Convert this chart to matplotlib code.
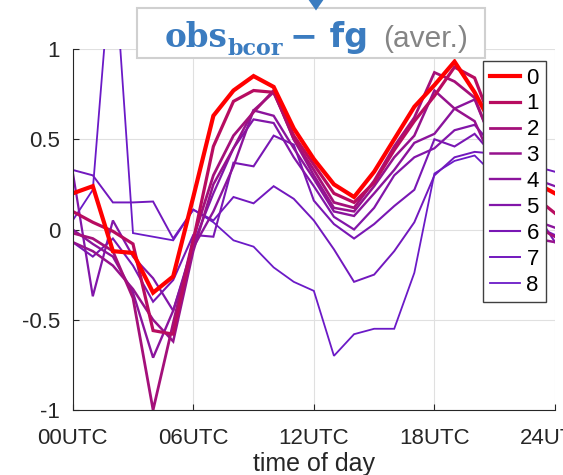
import matplotlib
matplotlib.use('Agg')
import matplotlib.pyplot as plt
import numpy as np
from matplotlib.patches import Rectangle, Polygon

# time axis (hour of day) and the nine series
hours = list(range(25))
labels = ['0', '1', '2', '3', '4', '5', '6', '7', '8']

d0 = [0.20, 0.24, -0.12, -0.13, -0.35, -0.26, 0.18, 0.63, 0.77, 0.85, 0.79, 0.56, 0.39,
      0.25, 0.18, 0.32, 0.50, 0.68, 0.80, 0.93, 0.76, 0.55, 0.38, 0.26, 0.20]
d1 = [0.10, 0.04, -0.01, -0.08, -0.56, -0.58, -0.06, 0.46, 0.71, 0.77, 0.76, 0.52, 0.36,
      0.20, 0.15, 0.26, 0.44, 0.60, 0.74, 0.90, 0.84, 0.55, 0.32, 0.18, 0.09]
d2 = [-0.02, -0.05, -0.12, -0.38, -1.00, -0.52, -0.05, 0.30, 0.52, 0.65, 0.77, 0.50, 0.33,
      0.15, 0.12, 0.27, 0.46, 0.62, 0.87, 0.82, 0.73, 0.45, 0.20, 0.02, -0.04]
d3 = [-0.07, -0.12, -0.20, -0.33, -0.50, -0.62, -0.12, 0.25, 0.45, 0.66, 0.76, 0.50, 0.30,
      0.12, 0.10, 0.24, 0.40, 0.52, 0.77, 0.67, 0.60, 0.35, 0.10, -0.05, -0.07]
d4 = [0.00, -0.08, -0.15, -0.35, -0.71, -0.45, -0.10, 0.10, 0.35, 0.66, 0.63, 0.45, 0.28,
      0.10, 0.075, 0.20, 0.33, 0.48, 0.53, 0.67, 0.72, 0.45, 0.20, 0.05, 0.01]
d5 = [0.32, -0.37, 0.05, -0.15, -0.27, -0.45, -0.08, 0.20, 0.45, 0.61, 0.59, 0.40, 0.24,
      0.07, 0.00, 0.12, 0.30, 0.40, 0.45, 0.55, 0.58, 0.45, 0.35, 0.28, 0.24]
d6 = [-0.07, -0.15, -0.05, -0.20, -0.40, -0.28, -0.03, -0.04, 0.37, 0.35, 0.52, 0.47, 0.16,
      0.03, -0.05, 0.03, 0.13, 0.22, 0.50, 0.46, 0.53, 0.40, 0.25, 0.10, -0.07]
d7 = [0.33, 0.30, 0.15, 0.15, 0.155, -0.05, 0.11, 0.05, 0.18, 0.145, 0.24, 0.17, 0.05,
      -0.11, -0.29, -0.25, -0.12, 0.04, 0.30, 0.40, 0.43, 0.42, 0.38, 0.35, 0.32]
d8 = [0.05, 0.22, 1.60, -0.02, -0.04, -0.06, 0.11, 0.04, -0.06, -0.095, -0.21, -0.29, -0.34,
      -0.70, -0.58, -0.55, -0.55, -0.24, 0.31, 0.38, 0.41, 0.30, 0.15, 0.02, -0.03]
series = [d0, d1, d2, d3, d4, d5, d6, d7, d8]

xtick_pos = [0, 6, 12, 18, 24]
xtick_lab = ['00UTC', '06UTC', '12UTC', '18UTC', '24UTC']
ytick_pos = [-1, -0.5, 0, 0.5, 1]
ytick_lab = ['-1', '-0.5', '0', '0.5', '1']

W, H = 563, 475
plt.rcParams['font.family'] = ['Liberation Sans', 'DejaVu Sans']
plt.rcParams['axes.unicode_minus'] = False

fig = plt.figure(figsize=(W / 100, H / 100), dpi=100)


def fx(px):
    return px / W


def fy(py):
    return 1 - py / H


ax = fig.add_axes([fx(72.7), fy(410), (555 - 72.7) / W, (410 - 49) / H])

# red -> purple, thick -> thin
widths = [3.0, 2.3, 2.0, 1.8, 1.7, 1.6, 1.5, 1.4, 1.3]
handles = [None] * len(series)
for k in reversed(range(len(series))):
    f = (k / 8.0) ** 0.35
    col = (1 - 0.58 * f, 0.1 * f, 0.78 * f)
    ln, = ax.plot(hours, series[k], color=col, lw=widths[k], label=labels[k],
                  solid_joinstyle='miter')
    handles[k] = ln

ax.set_xlim(0, 24)
ax.set_ylim(-1, 1)
ax.set_xticks(xtick_pos)
ax.set_xticklabels(xtick_lab)
ax.set_yticks(ytick_pos)
ax.set_yticklabels(ytick_lab)
ax.grid(True, color='#e0e0e0', lw=0.8)
ax.set_axisbelow(True)
for s in ['top', 'right']:
    ax.spines[s].set_visible(False)
for s in ['left', 'bottom']:
    ax.spines[s].set_color('#262626')
    ax.spines[s].set_linewidth(0.8)
ax.tick_params(direction='in', length=4, width=0.8, colors='#262626', labelsize=16)
ax.tick_params(axis='x', pad=13)
ax.tick_params(axis='y', pad=9)
ax.set_xlabel('time of day', fontsize=18, color='#262626')
ax.xaxis.set_label_coords(0.5, -0.117)
ax.xaxis.label.set_va('top')

leg = ax.legend(handles=handles, loc='upper left', bbox_to_anchor=(0.8505, 0.967),
                borderaxespad=0, fontsize=16, labelspacing=0.22, handlelength=1.36,
                handletextpad=0.3, borderpad=0.3, fancybox=False, framealpha=1,
                edgecolor='#404040')
leg.get_frame().set_linewidth(1.0)

# title box with blue pointer on top
blue = '#3b7cc0'
fig.patches.append(Rectangle((fx(137), fy(58.3)), (485 - 137) / W, 50 / H,
                             transform=fig.transFigure, facecolor='white',
                             edgecolor='#d0d0d0', lw=1.5, zorder=5))
fig.patches.append(Polygon([[fx(302), 1.02], [fx(330), 1.02], [fx(316), fy(10.5)]],
                           closed=True, transform=fig.transFigure, facecolor=blue,
                           edgecolor='none', zorder=6))
fig.text(fx(165), fy(46.7), 'obs', color=blue, fontsize=23.5, family='DejaVu Serif',
         weight='bold', va='baseline', ha='left', zorder=7)
fig.text(fx(228), fy(55), 'bcor', color=blue, fontsize=16, family='DejaVu Serif',
         weight='bold', va='baseline', ha='left', zorder=7)
fig.text(fx(290), fy(46.7), '\u2212 fg', color=blue, fontsize=24, family='DejaVu Sans',
         weight='bold', va='baseline', ha='left', zorder=7)
fig.text(fx(383), fy(46.7), '(aver.)', color='#858585', fontsize=21.5,
         family='Liberation Sans', va='baseline', ha='left', zorder=7)

fig.savefig('out.png', dpi=100)
